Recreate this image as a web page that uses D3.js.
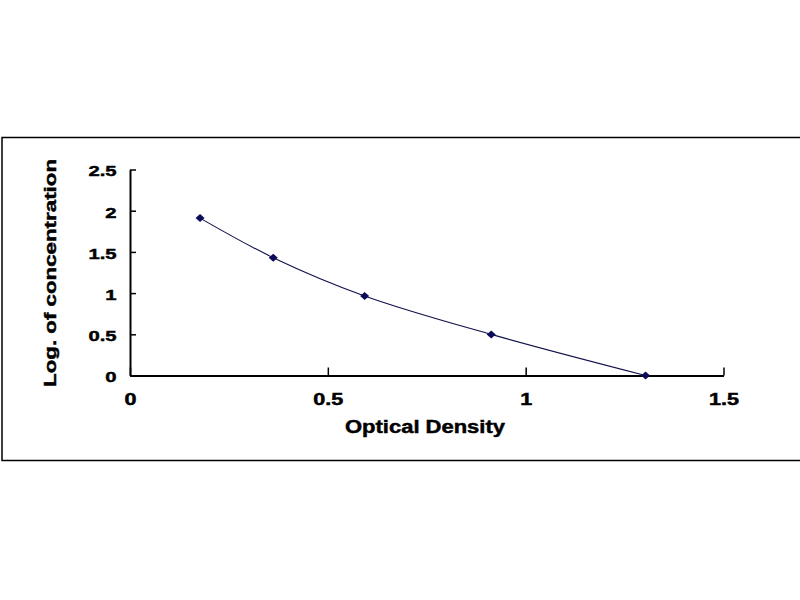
<!DOCTYPE html>
<html>
<head>
<meta charset="utf-8">
<script src="https://cdn.jsdelivr.net/npm/d3@7"></script>
<style>
  html, body { margin: 0; padding: 0; background: #fff; }
  svg { display: block; }
  text { font-family: Arial, "Liberation Sans", sans-serif; font-weight: bold; fill: #000; stroke: #000; stroke-width: 0.45px; }
</style>
</head>
<body>
<svg id="chart" width="800" height="600"></svg>
<script>
// Data
const opticalDensity = [0.177, 0.362, 0.593, 0.913, 1.303];
const logConcentration = [1.91, 1.43, 0.966, 0.499, 0.0];
const xTicks = [0, 0.5, 1, 1.5];
const yTicks = [0, 0.5, 1, 1.5, 2, 2.5];
const xTitle = "Optical Density";
const yTitle = "Log. of concentration";

const svg = d3.select("#chart");

// outer frame
svg.append("rect")
  .attr("x", 2).attr("y", 137.5).attr("width", 808).attr("height", 323)
  .attr("fill", "#fff").attr("stroke", "#000").attr("stroke-width", 1.5);

const x = d3.scaleLinear().domain([0, 1.5]).range([130, 723.5]);
const y = d3.scaleLinear().domain([0, 2.5]).range([375.5, 169.5]);
const sx = 1.35; // horizontal glyph stretch of tick labels

// Y axis
const gy = svg.append("g").attr("transform", `translate(${x(0)},0)`)
  .call(d3.axisLeft(y).tickValues(yTicks).tickSizeInner(-6).tickSizeOuter(0).tickPadding(0).tickFormat(d3.format("")));
gy.select(".domain").attr("stroke", "#000").attr("stroke-width", 2);
gy.selectAll(".tick line").attr("stroke", "#000").attr("stroke-width", 1.5);
gy.selectAll(".tick text")
  .attr("font-size", 15).attr("font-weight", "bold")
  .attr("x", -13.5 / sx).attr("dy", "0.42em")
  .attr("transform", `scale(${sx},1)`)
  .attr("text-anchor", "end");

// X axis
const gx = svg.append("g").attr("transform", `translate(0,${y(0)})`)
  .call(d3.axisBottom(x).tickValues(xTicks).tickSizeInner(-8).tickSizeOuter(0).tickPadding(0).tickFormat(d3.format("")));
gx.select(".domain").attr("stroke", "#000").attr("stroke-width", 2);
gx.selectAll(".tick line").attr("stroke", "#000").attr("stroke-width", 1.5);
gx.selectAll(".tick text")
  .attr("font-size", 16).attr("font-weight", "bold")
  .attr("y", 30).attr("dy", 0)
  .attr("x", 0)
  .attr("transform", `scale(${sx},1)`)
  .attr("text-anchor", "middle");

// axis titles
svg.append("text")
  .attr("x", 425).attr("y", 433)
  .attr("text-anchor", "middle")
  .attr("font-size", 17.5)
  .attr("textLength", 160).attr("lengthAdjust", "spacingAndGlyphs")
  .text(xTitle);

svg.append("text")
  .attr("transform", "translate(56,273) rotate(-90)")
  .attr("text-anchor", "middle")
  .attr("font-size", 17)
  .attr("textLength", 228).attr("lengthAdjust", "spacingAndGlyphs")
  .text(yTitle);

// data
const pts = opticalDensity.map((d, i) => [d, logConcentration[i]]);
const line = d3.line().x(d => x(d[0])).y(d => y(d[1])).curve(d3.curveCatmullRom.alpha(0.5));
svg.append("path").datum(pts)
  .attr("d", line)
  .attr("fill", "none").attr("stroke", "#10104a").attr("stroke-width", 1.1);

svg.selectAll(".pt").data(pts).enter().append("path")
  .attr("class", "pt")
  .attr("transform", d => `translate(${x(d[0])},${y(d[1])})`)
  .attr("d", "M0,-4L4.5,0L0,4L-4.5,0Z")
  .attr("fill", "#0b0b5a");
</script>
</body>
</html>
